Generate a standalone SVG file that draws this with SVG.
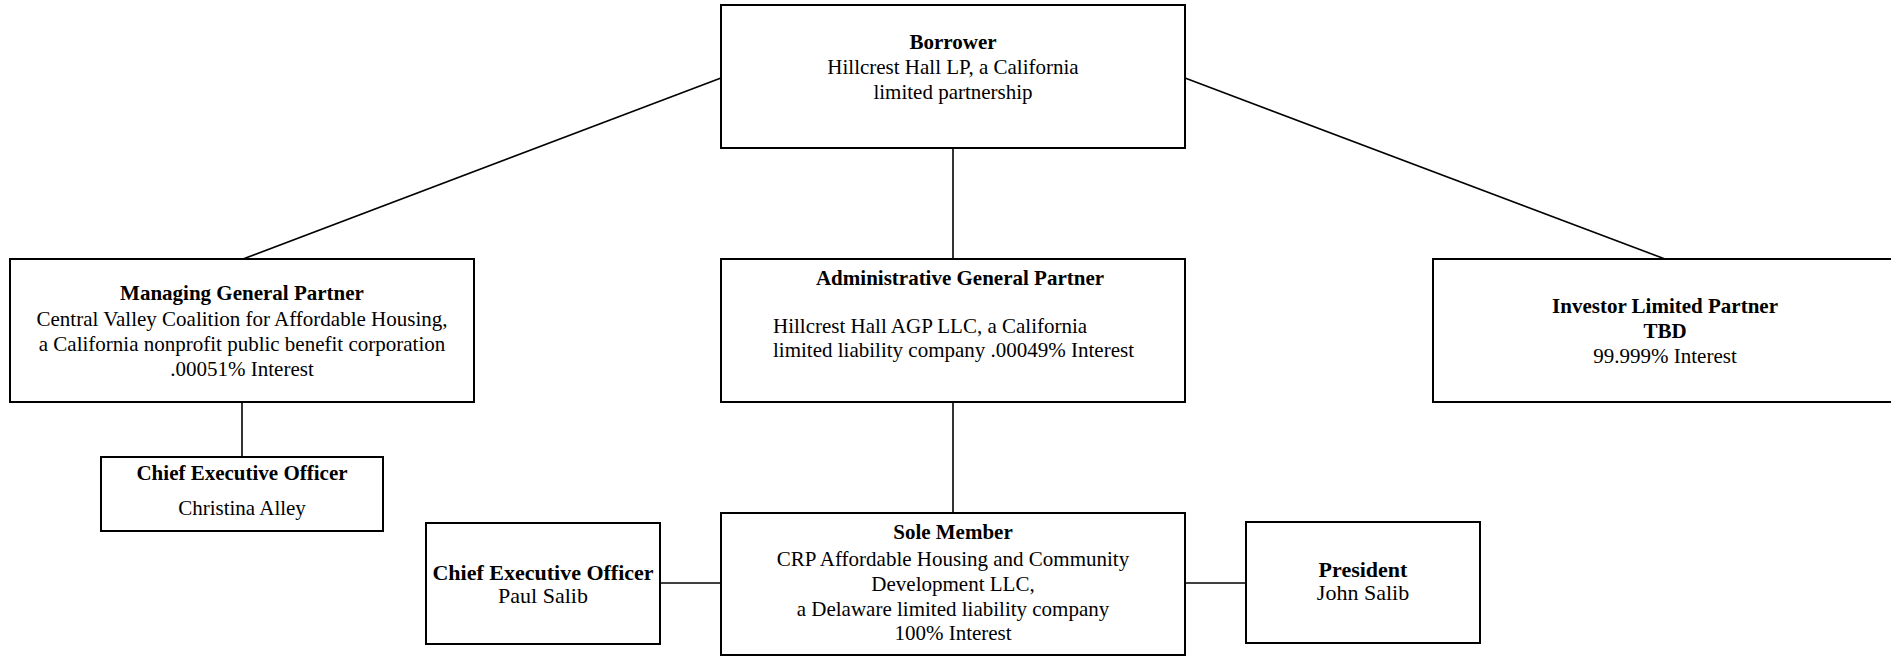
<svg xmlns="http://www.w3.org/2000/svg" width="1891" height="657" viewBox="0 0 1891 657">
<style>
.box{fill:#fff;stroke:#000;stroke-width:2}
.con line{stroke:#000;stroke-width:1.6}
text{font-family:"Liberation Serif","Times New Roman",serif;font-size:21px;fill:#000}
.c{text-anchor:middle}
.b{font-weight:bold}
.l{font-size:22px}
</style>
<rect width="1891" height="657" fill="#fff"/>
<g class="con">
<line x1="721" y1="78" x2="243" y2="259"/>
<line x1="1185" y1="78" x2="1665" y2="259"/>
<line x1="953" y1="148" x2="953" y2="259"/>
<line x1="953" y1="402" x2="953" y2="513"/>
<line x1="242" y1="402" x2="242" y2="457"/>
<line x1="660" y1="583" x2="721" y2="583"/>
<line x1="1185" y1="583" x2="1246" y2="583"/>
</g>
<g id="borrower">
<rect class="box" x="721" y="5" width="464" height="143"/>
<text class="c b" x="953" y="49">Borrower</text>
<text class="c" x="953" y="74">Hillcrest Hall LP, a California</text>
<text class="c" x="953" y="99">limited partnership</text>
</g>
<g id="mgp">
<rect class="box" x="10" y="259" width="464" height="143"/>
<text class="c b" x="242" y="300">Managing General Partner</text>
<text class="c" x="242" y="326">Central Valley Coalition for Affordable Housing,</text>
<text class="c" x="242" y="351">a California nonprofit public benefit corporation</text>
<text class="c" x="242" y="376">.00051% Interest</text>
</g>
<g id="agp">
<rect class="box" x="721" y="259" width="464" height="143"/>
<text class="c b" x="960" y="285">Administrative General Partner</text>
<text x="773" y="333">Hillcrest Hall AGP LLC, a California</text>
<text x="773" y="357">limited liability company .00049% Interest</text>
</g>
<g id="ilp">
<rect class="box" x="1433" y="259" width="465" height="143"/>
<text class="c b" x="1665" y="313">Investor Limited Partner</text>
<text class="c b" x="1665" y="338">TBD</text>
<text class="c" x="1665" y="363">99.999% Interest</text>
</g>
<g id="ceo-alley">
<rect class="box" x="101" y="457" width="282" height="74"/>
<text class="c b" x="242" y="480">Chief Executive Officer</text>
<text class="c" x="242" y="515">Christina Alley</text>
</g>
<g id="sole-member">
<rect class="box" x="721" y="513" width="464" height="142"/>
<text class="c b" x="953" y="539">Sole Member</text>
<text class="c" x="953" y="566">CRP Affordable Housing and Community</text>
<text class="c" x="953" y="591">Development LLC,</text>
<text class="c" x="953" y="616">a Delaware limited liability company</text>
<text class="c" x="953" y="640">100% Interest</text>
</g>
<g id="ceo-salib">
<rect class="box" x="426" y="523" width="234" height="121"/>
<text class="c b l" x="543" y="580">Chief Executive Officer</text>
<text class="c l" x="543" y="603">Paul Salib</text>
</g>
<g id="president">
<rect class="box" x="1246" y="522" width="234" height="121"/>
<text class="c b l" x="1363" y="577">President</text>
<text class="c l" x="1363" y="600">John Salib</text>
</g>
</svg>
